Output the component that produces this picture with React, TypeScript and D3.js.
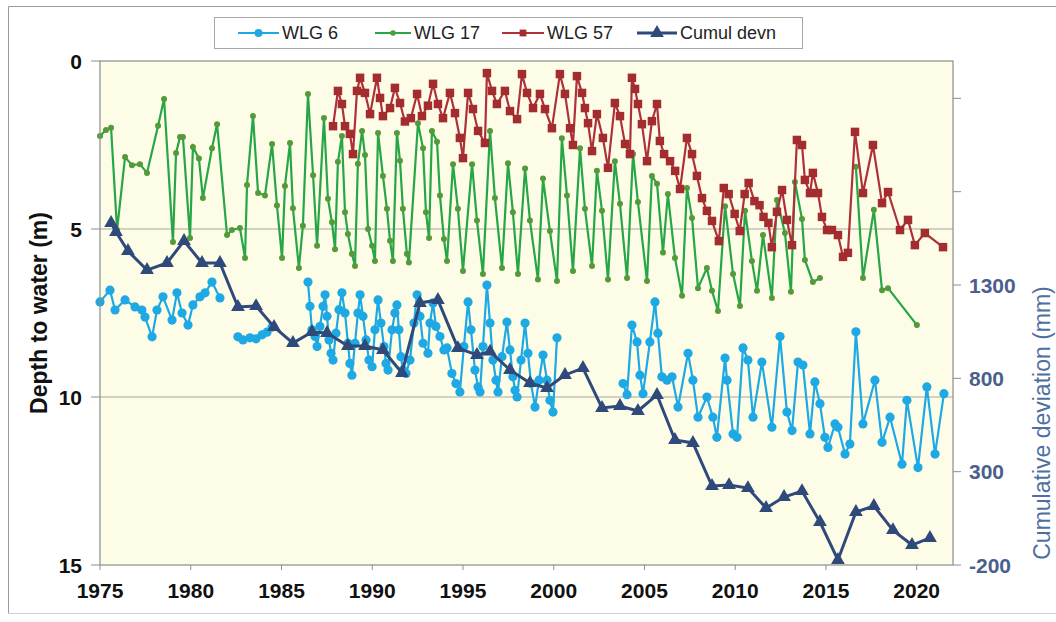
import React from 'react';
import * as d3 from 'd3';

type Pt = [number, number | null];

const X_TICKS = [1975, 1980, 1985, 1990, 1995, 2000, 2005, 2010, 2015, 2020];
const DEPTH_TICKS = [0, 5, 10, 15];
const DEPTH_GRID = [5, 10];
const CUM_TICKS = [-200, 300, 800, 1300, 1800, 2300];
const CUM_LABELS = ['-200', '300', '800', '1300', '', ''];
const SERIES_NAMES = ['WLG 6', 'WLG 17', 'WLG 57', 'Cumul devn'];

// WLG 6 depth to water (m)
const wlg6: Pt[] = [
  [1975.0, 7.17], [1975.55, 6.82], [1975.83, 7.41], [1976.38, 7.11], [1976.93, 7.32], [1977.31, 7.41],
  [1977.48, 7.62], [1977.87, 8.21], [1978.14, 7.41], [1978.47, 7.02], [1978.97, 7.71], [1979.24, 6.9],
  [1979.52, 7.5], [1979.85, 7.86], [1980.12, 7.26], [1980.51, 7.02], [1980.79, 6.9], [1981.17, 6.58],
  [1981.61, 7.05], [1982.1, null],
  [1982.6, 8.21], [1982.88, 8.3], [1983.26, 8.24], [1983.6, 8.27], [1983.93, 8.15], [1984.2, 8.07],
  [1984.48, 7.92], [1985.5, null],
  [1986.46, 6.58], [1986.57, 7.3], [1986.68, 8.0], [1986.85, 8.2], [1986.96, 8.5], [1987.12, 7.9],
  [1987.29, 7.3], [1987.4, 6.96], [1987.51, 7.6], [1987.62, 8.3], [1987.73, 8.7], [1987.84, 8.9],
  [1988.0, 8.1], [1988.17, 7.4], [1988.33, 6.9], [1988.5, 7.5], [1988.66, 8.4], [1988.77, 9.0],
  [1988.88, 9.35], [1989.05, 8.4], [1989.21, 7.5], [1989.33, 6.96], [1989.49, 7.6], [1989.66, 8.3],
  [1989.82, 8.9], [1989.99, 9.1], [1990.15, 8.0], [1990.32, 7.11], [1990.48, 7.8], [1990.65, 8.5],
  [1990.76, 9.0], [1990.87, 9.2], [1991.09, 8.0], [1991.25, 7.5], [1991.36, 7.26], [1991.47, 8.0],
  [1991.58, 8.8], [1991.69, 9.2], [1991.86, 9.3], [1992.08, 8.9], [1992.3, 7.8], [1992.47, 6.96],
  [1992.63, 7.6], [1992.8, 8.4], [1993.07, 8.7], [1993.18, 7.8], [1993.35, 7.2], [1993.51, 7.9],
  [1993.73, 8.2], [1993.95, 8.6], [1994.12, 8.54], [1994.39, 9.3], [1994.61, 9.6], [1994.83, 9.85],
  [1995.05, 8.5], [1995.28, 7.17], [1995.44, 8.0], [1995.66, 9.2], [1995.83, 9.7], [1995.94, 9.85],
  [1996.1, 8.5], [1996.32, 6.67], [1996.49, 7.8], [1996.65, 8.9], [1996.82, 9.5], [1996.93, 9.85],
  [1997.15, 8.8], [1997.42, 7.77], [1997.59, 8.6], [1997.75, 9.4], [1997.87, 9.8], [1997.98, 10.0],
  [1998.2, 8.9], [1998.42, 7.8], [1998.58, 8.7], [1998.75, 9.6], [1998.97, 10.3], [1999.19, 9.5],
  [1999.41, 8.75], [1999.63, 9.5], [1999.79, 10.1], [1999.96, 10.45], [2000.18, 8.24], [2002.0, null],
  [2003.82, 9.6], [2004.04, 9.93], [2004.31, 7.86], [2004.59, 8.36], [2004.75, 9.35], [2004.92, 9.9],
  [2005.3, 8.36], [2005.58, 7.17], [2005.74, 8.1], [2005.96, 9.4], [2006.24, 9.5], [2006.52, 9.4],
  [2006.85, 10.3], [2007.4, 8.7], [2007.67, 9.5], [2007.95, 10.6], [2008.44, 10.0], [2008.77, 10.6],
  [2008.99, 11.2], [2009.44, 8.84], [2009.55, 9.5], [2009.88, 11.1], [2010.1, 11.2], [2010.43, 8.54],
  [2010.7, 8.9], [2010.98, 10.6], [2011.47, 8.96], [2012.02, 10.9], [2012.47, 8.2], [2012.85, 10.45],
  [2013.13, 11.0], [2013.46, 8.96], [2013.73, 9.05], [2014.12, 11.1], [2014.39, 9.55], [2014.67, 10.2],
  [2014.94, 11.2], [2015.11, 11.5], [2015.5, 10.8], [2015.66, 10.9], [2016.05, 11.7], [2016.32, 11.4],
  [2016.65, 8.06], [2017.04, 10.8], [2017.7, 9.5], [2018.09, 11.35], [2018.53, 10.6], [2019.19, 12.0],
  [2019.46, 10.1], [2020.07, 12.1], [2020.56, 9.7], [2021.01, 11.7], [2021.5, 9.9],
];

// WLG 17 depth to water (m)
const wlg17: Pt[] = [
  [1975.0, 2.23], [1975.33, 2.05], [1975.61, 1.99], [1975.94, 5.03], [1976.38, 2.86], [1976.76, 3.1],
  [1977.2, 3.07], [1977.59, 3.33], [1978.2, 1.93], [1978.53, 1.13], [1979.02, 5.39], [1979.19, 2.74],
  [1979.41, 2.26], [1979.57, 2.26], [1979.96, 5.27], [1980.12, 2.56], [1980.45, 2.9], [1980.67, 4.08],
  [1981.17, 2.6], [1981.45, 1.88], [1982.0, 5.18], [1982.27, 5.03], [1982.71, 4.97], [1982.99, 5.86],
  [1983.1, 3.69], [1983.43, 1.64], [1983.71, 3.93], [1984.09, 4.0], [1984.48, 2.47], [1984.75, 4.3],
  [1985.03, 5.86], [1985.19, 3.72], [1985.47, 2.44], [1985.63, 4.38], [1985.96, 6.16], [1986.18, 4.9],
  [1986.46, 0.98], [1986.74, 3.4], [1986.96, 5.5], [1987.34, 1.7], [1987.56, 4.1], [1987.78, 4.8],
  [1987.95, 5.6], [1988.11, 3.0], [1988.33, 2.23], [1988.5, 4.5], [1988.66, 5.15], [1988.88, 5.74],
  [1989.05, 6.1], [1989.21, 3.06], [1989.44, 2.08], [1989.6, 2.8], [1989.77, 5.0], [1989.99, 5.5],
  [1990.15, 5.95], [1990.32, 2.14], [1990.59, 3.42], [1990.81, 4.4], [1990.98, 5.35], [1991.14, 5.95],
  [1991.36, 2.14], [1991.53, 2.97], [1991.69, 4.4], [1991.91, 5.74], [1992.02, 6.0], [1992.52, 1.85],
  [1992.8, 2.6], [1992.96, 4.5], [1993.13, 5.27], [1993.29, 2.08], [1993.57, 2.4], [1993.73, 4.0],
  [1993.95, 5.3], [1994.12, 5.95], [1994.45, 3.07], [1994.72, 4.4], [1995.0, 6.25], [1995.5, 3.07],
  [1995.77, 4.75], [1996.1, 6.34], [1996.49, 2.08], [1996.76, 4.08], [1997.15, 6.16], [1997.48, 3.04],
  [1997.75, 4.5], [1998.03, 6.34], [1998.42, 3.2], [1998.69, 4.75], [1999.13, 6.5], [1999.41, 3.5],
  [1999.79, 5.06], [2000.18, 6.55], [2000.45, 2.3], [2000.73, 4.0], [2001.06, 6.25], [2001.45, 2.6],
  [2001.72, 4.4], [2002.11, 6.1], [2002.38, 3.27], [2002.66, 4.46], [2002.99, 6.5], [2003.37, 2.98],
  [2003.65, 4.25], [2004.04, 6.46], [2004.37, 2.77], [2004.64, 4.2], [2005.14, 6.55], [2005.41, 3.42],
  [2005.69, 3.65], [2006.02, 5.7], [2006.29, 3.96], [2006.68, 5.86], [2007.07, 6.99], [2007.34, 3.78],
  [2007.62, 4.67], [2007.95, 6.76], [2008.44, 6.16], [2008.72, 6.84], [2009.05, 7.44], [2009.44, 4.32],
  [2009.88, 6.34], [2010.26, 7.29], [2010.54, 4.46], [2010.92, 5.95], [2011.2, 6.84], [2011.53, 5.18],
  [2012.02, 7.05], [2012.3, 4.14], [2012.74, 5.12], [2013.07, 6.87], [2013.29, 3.6], [2013.68, 4.7],
  [2013.84, 5.92], [2014.28, 6.58], [2014.67, 6.46], [2015.6, null],
  [2016.65, 3.15], [2017.04, 6.46], [2017.64, 4.43], [2018.09, 6.82], [2018.42, 6.76], [2020.01, 7.86],
];

// WLG 57 depth to water (m)
const wlg57: Pt[] = [
  [1987.84, 1.94], [1988.11, 0.89], [1988.33, 1.28], [1988.5, 1.94], [1988.77, 2.17], [1988.94, 2.77],
  [1989.16, 0.89], [1989.33, 0.5], [1989.6, 0.95], [1989.88, 1.58], [1990.26, 0.5], [1990.43, 1.1],
  [1990.59, 1.64], [1990.98, 1.4], [1991.25, 0.8], [1991.53, 1.25], [1991.8, 1.8], [1992.13, 1.7],
  [1992.47, 0.98], [1992.74, 1.64], [1993.07, 1.33], [1993.35, 0.68], [1993.62, 1.28], [1993.9, 1.7],
  [1994.28, 0.95], [1994.56, 1.55], [1994.83, 2.29], [1995.0, 2.89], [1995.28, 0.95], [1995.55, 1.43],
  [1995.83, 2.08], [1996.21, 2.44], [1996.32, 0.36], [1996.6, 0.89], [1996.87, 1.28], [1997.31, 0.89],
  [1997.59, 1.49], [1997.98, 1.73], [1998.25, 0.39], [1998.53, 0.95], [1998.86, 1.4], [1999.24, 0.98],
  [1999.52, 1.43], [1999.9, 2.0], [2000.34, 0.39], [2000.62, 0.98], [2000.9, 2.0], [2001.06, 2.5],
  [2001.28, 0.45], [2001.56, 0.95], [2001.72, 1.4], [2001.89, 1.85], [2002.11, 2.68], [2002.38, 1.58],
  [2002.71, 2.29], [2002.99, 3.18], [2003.37, 1.25], [2003.65, 1.64], [2003.93, 2.47], [2004.2, 2.77],
  [2004.31, 0.5], [2004.48, 0.83], [2004.64, 1.28], [2004.86, 1.88], [2005.14, 2.98], [2005.41, 1.79],
  [2005.69, 1.28], [2005.85, 2.38], [2006.08, 2.77], [2006.41, 2.98], [2006.69, 3.27], [2006.96, 3.81],
  [2007.34, 2.29], [2007.62, 2.77], [2007.89, 3.42], [2008.17, 4.08], [2008.44, 4.46], [2008.72, 4.76],
  [2009.1, 5.36], [2009.37, 3.78], [2009.64, 3.96], [2009.97, 4.55], [2010.25, 5.06], [2010.52, 3.96],
  [2010.74, 3.63], [2011.06, 4.17], [2011.34, 4.29], [2011.56, 4.64], [2011.83, 4.82], [2012.02, 5.54],
  [2012.3, 4.49], [2012.58, 3.84], [2012.85, 4.73], [2013.13, 5.48], [2013.4, 2.35], [2013.68, 2.5],
  [2013.84, 3.54], [2014.12, 3.93], [2014.28, 3.33], [2014.56, 3.93], [2014.78, 4.64], [2015.06, 5.03],
  [2015.33, 5.03], [2015.66, 5.18], [2015.94, 5.83], [2016.21, 5.71], [2016.6, 2.11], [2017.04, 3.93],
  [2017.59, 2.5], [2018.09, 4.23], [2018.42, 3.9], [2019.08, 5.03], [2019.52, 4.73], [2019.9, 5.48],
  [2020.45, 5.12], [2021.45, 5.54],
];

// Cumulative deviation (mm)
const cumulDevn: Pt[] = [
  [1975.61, 1632], [1975.88, 1584], [1976.54, 1482], [1977.59, 1380], [1978.69, 1418], [1979.63, 1536],
  [1980.62, 1418], [1981.61, 1418], [1982.6, 1182], [1983.6, 1187], [1984.59, 1075], [1985.63, 989],
  [1986.68, 1048], [1987.51, 1043], [1988.66, 973], [1989.6, 973], [1990.59, 952], [1991.64, 829],
  [1992.63, 1204], [1993.62, 1220], [1994.72, 962], [1995.77, 925], [1996.49, 943], [1997.59, 845],
  [1998.69, 775], [1999.63, 748], [2000.62, 818], [2001.61, 855], [2002.66, 641], [2003.65, 652],
  [2004.64, 625], [2005.69, 711], [2006.68, 470], [2007.67, 454], [2008.72, 223], [2009.66, 228],
  [2010.7, 212], [2011.7, 105], [2012.69, 164], [2013.68, 196], [2014.67, 30], [2015.66, -173],
  [2016.65, 84], [2017.64, 116], [2018.69, -13], [2019.74, -93], [2020.73, -55],
];

const W = 1056;
const H = 622;
const L = 100, R = 953, T = 61, B = 565;
const FONT = '"Liberation Sans", Arial, Helvetica, sans-serif';

const C6 = '#1ea8e4';
const C17 = '#26a646';
const C17M = '#55993a';
const C57 = '#b0303a';
const C57M = '#a32c2f';
const CCUM = '#2f4a7a';

export default function App() {
  const x = d3.scaleLinear().domain([1975, 2022]).range([L, R]);
  const y = d3.scaleLinear().domain([0, 15]).range([T, B]);
  const y2 = d3.scaleLinear().domain([-200, 2500]).range([B, T]);

  const mkLine = (sy: d3.ScaleLinear<number, number>) =>
    d3.line<Pt>().defined(d => d[1] != null).x(d => x(d[0])).y(d => sy(d[1] as number));
  const l1 = mkLine(y);
  const l2 = mkLine(y2);

  const square = d3.symbol().type(d3.symbolSquare).size(72)() as string;
  const tri = d3.symbol().type(d3.symbolTriangle).size(82)() as string;

  const def = (a: Pt[]) => a.filter(d => d[1] != null);

  const legendItems = [
    { name: SERIES_NAMES[0], x0: 238, x1: 279, tx: 282, color: C6, marker: 'c', mc: C6 },
    { name: SERIES_NAMES[1], x0: 375, x1: 411, tx: 414, color: C17, marker: 'd', mc: C17M },
    { name: SERIES_NAMES[2], x0: 502, x1: 544, tx: 547, color: C57, marker: 's', mc: C57M },
    { name: SERIES_NAMES[3], x0: 637, x1: 677, tx: 680, color: CCUM, marker: 't', mc: CCUM },
  ];

  const marker = (m: string, c: string) => {
    if (m === 'c') return <circle r={4} fill={c} />;
    if (m === 'd') return <circle r={2.8} fill={c} />;
    if (m === 's') return <path d={square} fill={c} transform="scale(0.8)" />;
    return <path d={tri} fill={c} />;
  };

  return (
    <svg width={W} height={H} style={{ position: 'absolute', left: 0, top: 0, background: '#fff' }} fontFamily={FONT}>
      {/* outer chart border */}
      <line x1={8.5} y1={6.5} x2={W} y2={6.5} stroke="#9a9a9a" />
      <line x1={8.5} y1={6.5} x2={8.5} y2={613.5} stroke="#9a9a9a" />
      <line x1={8.5} y1={613.5} x2={W} y2={613.5} stroke="#d0d0d0" />

      {/* plot area */}
      <rect x={L} y={T} width={R - L} height={B - T} fill="#fdfde7" />
      {DEPTH_GRID.map(v => (
        <line key={v} x1={L} x2={R} y1={y(v)} y2={y(v)} stroke="#a9a69c" strokeWidth={1} />
      ))}

      {/* series */}
      <path d={l1(wlg6) || ''} fill="none" stroke={C6} strokeWidth={2.2} />
      {def(wlg6).map((d, i) => (
        <circle key={i} cx={x(d[0])} cy={y(d[1] as number)} r={4.6} fill={C6} />
      ))}
      <path d={l1(wlg17) || ''} fill="none" stroke={C17} strokeWidth={2.2} />
      {def(wlg17).map((d, i) => (
        <circle key={i} cx={x(d[0])} cy={y(d[1] as number)} r={3} fill={C17M} />
      ))}
      <path d={l1(wlg57) || ''} fill="none" stroke={C57} strokeWidth={2.2} />
      {def(wlg57).map((d, i) => (
        <path key={i} d={square} transform={`translate(${x(d[0])},${y(d[1] as number)})`} fill={C57M} />
      ))}
      <path d={l2(cumulDevn) || ''} fill="none" stroke={CCUM} strokeWidth={3} />
      {def(cumulDevn).map((d, i) => (
        <path key={i} d={tri} transform={`translate(${x(d[0])},${y2(d[1] as number)})`} fill={CCUM} />
      ))}

      {/* plot border */}
      <rect x={L} y={T} width={R - L} height={B - T} fill="none" stroke="#8c8c8c" strokeWidth={1.2} />

      {/* left axis */}
      {DEPTH_TICKS.map(v => (
        <g key={v}>
          <line x1={L - 9} x2={L} y1={y(v)} y2={y(v)} stroke="#8c8c8c" />
          <text x={82} y={y(v)} dy="0.36em" textAnchor="end" fontSize={21} fontWeight="bold" fill="#111">{v}</text>
        </g>
      ))}
      <text transform={`translate(47,${(T + B) / 2}) rotate(-90)`} textAnchor="middle" fontSize={23} fontWeight="bold" fill="#111">
        Depth to water (m)
      </text>

      {/* right axis */}
      {CUM_TICKS.map((v, i) => (
        <g key={v}>
          <line x1={R} x2={R + 8} y1={y2(v)} y2={y2(v)} stroke="#8c8c8c" />
          {CUM_LABELS[i] && (
            <text x={969} y={y2(v)} dy="0.36em" textAnchor="start" fontSize={21} fontWeight="bold" fill="#4b5f8e">{CUM_LABELS[i]}</text>
          )}
        </g>
      ))}
      <text transform={`translate(1050,423) rotate(-90)`} textAnchor="middle" fontSize={23} fill="#4e6fa2">
        Cumulative deviation (mm)
      </text>

      {/* bottom axis */}
      {X_TICKS.map(v => (
        <g key={v}>
          <line x1={x(v)} x2={x(v)} y1={B} y2={B + 5} stroke="#8c8c8c" />
          <text x={x(v)} y={598} textAnchor="middle" fontSize={21} fontWeight="bold" fill="#111">{v}</text>
        </g>
      ))}

      {/* legend */}
      <rect x={214.5} y={17.5} width={588} height={31} fill="#fff" stroke="#a8a8a8" />
      {legendItems.map(it => (
        <g key={it.name}>
          <line x1={it.x0} x2={it.x1} y1={33} y2={33} stroke={it.color} strokeWidth={it.marker === 't' ? 3 : 2} />
          <g transform={`translate(${(it.x0 + it.x1) / 2},33)`}>{marker(it.marker, it.mc)}</g>
          <text x={it.tx} y={33} dy="0.36em" fontSize={18} fill="#222">{it.name}</text>
        </g>
      ))}
    </svg>
  );
}
